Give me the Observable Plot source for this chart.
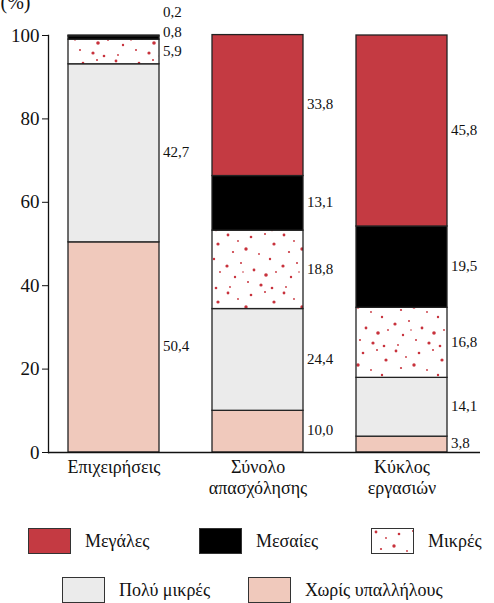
<!DOCTYPE html>
<html>
<head>
<meta charset="utf-8">
<script src="https://cdn.jsdelivr.net/npm/d3@7"></script>
<script src="https://cdn.jsdelivr.net/npm/@observablehq/plot@0.6"></script>
<style>
  body { margin: 0; background: #fff; font-family: "Liberation Serif", "Times New Roman", Times, Tinos, "Noto Serif", "DejaVu Serif", FreeSerif, serif; color: #111; }
  #wrap { position: relative; width: 494px; height: 603px; overflow: hidden; }
  .row { position: absolute; display: flex; align-items: center; white-space: nowrap; font-size: 18px; }
  .item { display: flex; align-items: center; }
  .sw { width: 41px; height: 24px; border: 1.5px solid #333; margin-right: 14px; box-sizing: content-box; }
</style>
</head>
<body>
<div id="wrap"></div>
<script>
// ---- data ----
const categories = ["Επιχειρήσεις", "Σύνολο απασχόλησης", "Κύκλος εργασιών"];
const categoryLabels = ["Επιχειρήσεις", "Σύνολο\nαπασχόλησης", "Κύκλος\nεργασιών"];
const series = ["Χωρίς υπαλλήλους", "Πολύ μικρές", "Μικρές", "Μεσαίες", "Μεγάλες"]; // bottom to top
const noEmployees = [50.4, 10.0, 3.8];
const verysmall   = [42.7, 24.4, 14.1];
const small       = [5.9, 18.8, 16.8];
const medium      = [0.8, 13.1, 19.5];
const large       = [0.2, 33.8, 45.8];
const yTicks = [0, 20, 40, 60, 80, 100];
const legendOrder = [["Μεγάλες", "Μεσαίες", "Μικρές"], ["Πολύ μικρές", "Χωρίς υπαλλήλους"]];

const colors = {
  "Χωρίς υπαλλήλους": "#f0c9bc",
  "Πολύ μικρές": "#ebebeb",
  "Μικρές": "url(#dots)",
  "Μεσαίες": "#000000",
  "Μεγάλες": "#c43a42"
};

const valuesBySeries = [noEmployees, verysmall, small, medium, large];
const table = [];
categories.forEach((c, i) => {
  series.forEach((s, j) => table.push({cat: c, series: s, value: valuesBySeries[j][i]}));
});

// label positions: segment mids, then pushed up so labels do not collide
const minGap = 4.6;
const labels = [];
categories.forEach((c, i) => {
  let cum = 0, prev = -Infinity;
  series.forEach((s, j) => {
    const v = valuesBySeries[j][i];
    const mid = cum + v / 2;
    cum += v;
    const y = Math.max(mid, prev + minGap);
    prev = y;
    labels.push({cat: c, y, text: d3.format(".1f")(v).replace(".", ",")});
  });
});

const fontFamily = '"Liberation Serif", "Times New Roman", Times, Tinos, "Noto Serif", "DejaVu Serif", FreeSerif, serif';

const svg = Plot.plot({
  width: 494,
  height: 510,
  marginLeft: 48,
  marginRight: 14,
  marginTop: 35,
  marginBottom: 58,
  style: {fontFamily, color: "#111", background: "transparent", overflow: "visible"},
  x: {domain: categories, range: [48, 467], paddingInner: 0.37, paddingOuter: 0.138, label: null},
  y: {domain: [0, 100], label: null},
  color: {domain: series, range: series.map(s => colors[s])},
  marks: [
    Plot.barY(table, {x: "cat", y: "value", fill: "series", stroke: "#222", strokeWidth: 1.3}),
    Plot.text(labels, {x: "cat", y: "y", text: "text", dx: 49, dy: -1, textAnchor: "start", fontSize: 15, fill: "#111"}),
    Plot.axisY({ticks: yTicks, tickSize: 6, tickPadding: 3, fontSize: 19, tickFormat: d => d, stroke: "#111"}),
    Plot.axisX({tickSize: 0, tickPadding: 5, fontSize: 18, tickFormat: d => categoryLabels[categories.indexOf(d)], lineHeight: 1.2}),
    Plot.ruleY([0], {stroke: "#111", strokeWidth: 1.3}),
    Plot.frame({anchor: "left", stroke: "#111", strokeWidth: 1.3}),
    Plot.text(["(%)"], {frameAnchor: "top-left", dx: -48, dy: -41, textAnchor: "start", lineAnchor: "top", fontSize: 20, fill: "#111"})
  ]
});

// dotted pattern for "Μικρές"
const dots = [[4,3,1.4],[14,9,0.9],[27,5,1.3],[41,2,1.0],[50,12,1.6],[9,20,1.1],[22,17,1.7],[35,22,0.9],[46,27,1.2],[3,34,1.6],[17,31,1.0],[30,38,1.4],[42,43,1.8],[11,45,1.2],[24,50,1.0],[52,40,0.9],[37,53,1.6],[6,55,0.9],[48,56,1.3],[19,40,0.8]];
function addPattern(root, id) {
  const defs = d3.select(root).insert("defs", ":first-child");
  const p = defs.append("pattern").attr("id", id).attr("patternUnits", "userSpaceOnUse")
    .attr("width", 56).attr("height", 58);
  p.append("rect").attr("width", 56).attr("height", 58).attr("fill", "#fff");
  dots.forEach(([x, y, r]) => p.append("circle").attr("cx", x).attr("cy", y).attr("r", r).attr("fill", "#c8323c"));
}
addPattern(svg, "dots");

const wrap = document.getElementById("wrap");
wrap.appendChild(svg);

// legend
const NS = "http://www.w3.org/2000/svg";
const rowsPos = [{top: 528, left: 28, widths: [171, 172, 140]}, {top: 577, left: 62, widths: [186, 220]}];
legendOrder.forEach((row, ri) => {
  const r = document.createElement("div");
  r.className = "row";
  r.style.top = rowsPos[ri].top + "px";
  r.style.left = rowsPos[ri].left + "px";
  row.forEach((s, k) => {
    const it = document.createElement("div");
    it.className = "item";
    it.style.width = rowsPos[ri].widths[k] + "px";
    const sw = document.createElement("div");
    sw.className = "sw";
    if (s === "Μικρές") {
      sw.style.background = "#fff";
      const sv = document.createElementNS(NS, "svg");
      sv.setAttribute("width", 41); sv.setAttribute("height", 24);
      sv.style.display = "block";
      addPattern(sv, "dots-legend");
      const rc = document.createElementNS(NS, "rect");
      rc.setAttribute("width", 41); rc.setAttribute("height", 24);
      rc.setAttribute("fill", "url(#dots-legend)");
      sv.appendChild(rc);
      sw.appendChild(sv);
    } else {
      sw.style.background = colors[s];
    }
    const t = document.createElement("span");
    t.textContent = s;
    it.appendChild(sw);
    it.appendChild(t);
    r.appendChild(it);
  });
  wrap.appendChild(r);
});
</script>
</body>
</html>
